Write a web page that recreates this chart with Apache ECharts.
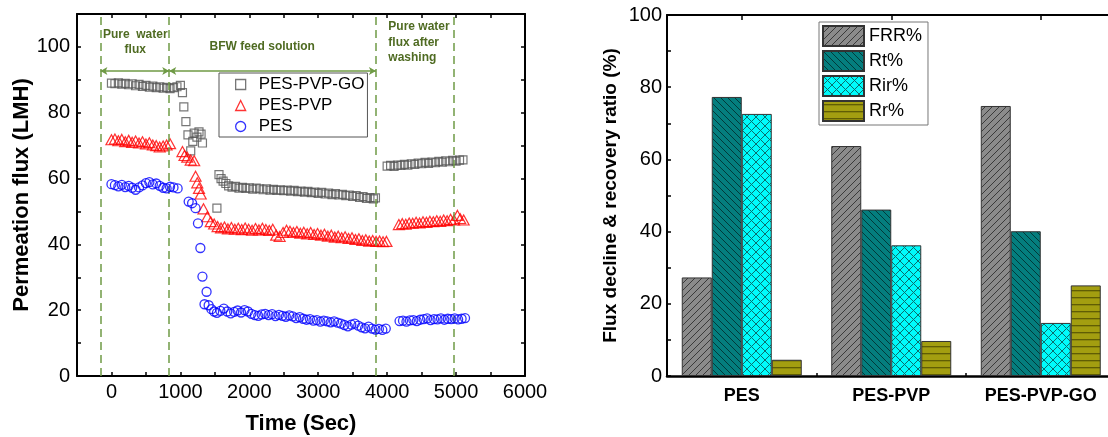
<!DOCTYPE html>
<html><head><meta charset="utf-8">
<script src="https://cdn.jsdelivr.net/npm/echarts@6/dist/echarts.min.js"></script>
<style>html,body{margin:0;padding:0;background:#fff}#c{width:1108px;height:437px}</style>
</head><body><div id="c"></div>
<script>
// ---------- Left panel: permeation flux vs time ----------
const GO_TIME = [0,50,100,150,200,250,300,350,400,450,500,550,600,650,700,750,800,850,900,950,
  1000,1030,1050,1080,1110,1150,1180,1200,1240,1270,1300,1320,1530,1560,1590,1620,1660,1700,
  1750,1800,1850,1900,1950,2000,2050,2100,2150,2200,2250,2300,2350,2400,2450,2500,2550,2600,2650,2700,
  2750,2800,2850,2900,2950,3000,3050,3100,3150,3200,3250,3300,3350,3400,3450,3500,3550,3600,3650,3700,3750,3800,3830,
  4000,4050,4100,4150,4200,4250,4300,4350,4400,4450,4500,4550,4600,4650,4700,4750,4800,4850,4900,4950,5000,5050,5100];
const GO_FLUX = [89.0,88.8,89.1,88.7,88.9,88.5,88.8,88.2,88.6,88.0,88.3,87.8,88.1,87.6,87.9,87.5,87.7,87.3,87.6,87.9,
  88.3,86.1,81.8,77.3,73.3,68.4,71.3,73.8,72.6,74.2,73.5,70.8,51.0,61.2,60.0,59.2,58.5,57.8,
  57.4,57.6,57.1,57.3,57.0,57.2,56.8,57.1,56.9,56.6,56.9,56.5,56.7,56.4,56.6,56.3,56.5,56.2,56.4,56.0,
  56.2,55.9,56.1,55.7,55.9,55.5,55.8,55.3,55.6,55.1,55.4,55.0,55.2,54.8,55.0,54.6,54.8,54.3,54.5,54.0,54.2,53.8,54.1,
  63.8,64.0,63.7,64.1,64.0,64.3,64.1,64.5,64.3,64.7,64.5,64.9,64.6,65.0,64.8,65.2,65.0,65.4,65.1,65.5,65.3,65.6,65.7];

const PVP_TIME = [0,50,100,150,200,250,300,350,400,450,500,550,600,650,700,750,800,850,
  1030,1060,1100,1150,1200,1220,1245,1270,1295,1335,1390,1440,1490,1540,
  1590,1640,1690,1740,1790,1840,1890,1940,1990,2040,2090,2140,2190,2240,2290,2340,2390,2440,2490,2540,
  2590,2640,2690,2740,2790,2840,2890,2940,2990,3040,3090,3140,3190,3240,3290,3340,3390,3440,3490,3540,
  3590,3640,3690,3740,3790,3840,3890,3940,3990,
  4170,4220,4270,4320,4370,4420,4470,4520,4570,4620,4670,4720,4770,4820,4870,4920,4970,5020,5060,5110];
const PVP_FLUX = [71.8,72.0,71.5,71.9,71.2,71.6,71.0,71.4,70.8,71.2,70.5,70.9,70.2,70.0,69.6,69.9,70.2,70.6,
  68.2,67.0,66.5,65.6,65.4,60.7,58.7,57.0,55.3,50.8,48.4,46.9,46.2,45.4,
  45.0,45.3,44.7,45.1,44.6,44.9,44.5,45.0,44.6,44.3,44.8,44.4,44.9,44.5,44.2,44.6,42.8,42.4,43.6,44.3,
  44.0,43.6,43.9,43.4,43.7,43.2,43.6,43.0,43.3,42.8,43.1,42.5,42.8,42.2,42.5,42.0,42.3,41.8,42.0,41.5,
  41.7,41.2,41.4,41.0,41.2,40.9,41.0,40.8,40.9,
  46.0,46.3,46.1,46.5,46.4,46.7,46.5,46.9,46.7,47.0,46.9,47.2,47.0,47.4,47.2,47.6,47.4,48.8,47.8,47.4];

const PES_TIME = [0,50,100,150,200,250,300,350,400,450,500,550,600,650,700,750,800,850,900,960,
  1120,1170,1220,1255,1290,1320,1350,1380,1410,1450,1490,1530,
  1580,1630,1680,1730,1780,1830,1880,1930,1980,2030,2080,2130,2180,2230,2280,2330,2380,2430,2480,2530,
  2580,2630,2680,2730,2780,2830,2880,2930,2980,3030,3080,3130,3180,3230,3280,3330,3380,3430,3480,3530,
  3580,3630,3680,3730,3780,3830,3880,3930,3980,
  4180,4230,4280,4330,4380,4430,4480,4530,4580,4630,4680,4730,4780,4830,4880,4930,4980,5030,5080,5130];
const PES_FLUX = [58.3,58.0,57.6,58.1,57.4,57.8,57.2,56.6,57.3,57.9,58.6,58.9,58.2,58.5,57.8,57.2,57.0,57.5,57.3,57.0,
  53.0,52.5,51.0,46.4,38.9,30.2,21.8,25.6,21.5,20.3,19.6,19.2,
  19.8,20.5,19.6,19.0,19.5,19.9,19.3,20.0,19.6,18.9,18.5,18.3,18.7,18.9,18.5,18.8,18.2,18.6,18.3,18.0,
  18.4,18.1,17.6,17.9,17.4,17.1,17.3,16.8,17.0,16.5,16.8,16.6,16.3,16.6,16.2,15.9,15.5,15.1,15.6,15.9,
  15.3,14.8,14.5,15.0,14.4,14.1,14.3,14.0,14.4,
  16.7,16.8,16.5,16.9,17.0,16.7,17.1,17.3,17.5,17.0,17.3,17.2,17.5,17.1,17.4,17.3,17.5,17.2,17.4,17.6];

const PHASE_LINES = [-160, 838, 3837, 4969];
const ARROW_LEVEL = 92.7;
const LEFT_SERIES = ['PES-PVP-GO', 'PES-PVP', 'PES'];

// ---------- Right panel: flux decline & recovery ratio ----------
const MEMBRANES = ['PES', 'PES-PVP', 'PES-PVP-GO'];
const FRR = [27.3, 63.7, 74.8];
const RT  = [77.3, 46.1, 40.1];
const RIR = [72.6, 36.2, 14.7];
const RR  = [4.5, 9.7, 25.1];
const BAR_NAMES = ['FRR%', 'Rt%', 'Rir%', 'Rr%'];

const FONT = '"Liberation Sans", Arial, Helvetica, sans-serif';
function zip(t, v) { const n = Math.min(t.length, v.length); const o = []; for (let i = 0; i < n; i++) o.push([t[i], v[i]]); return o; }

function pattern(bg, line, kind, s) {
  const c = document.createElement('canvas'); c.width = s; c.height = s;
  const g = c.getContext('2d');
  g.fillStyle = bg; g.fillRect(0, 0, s, s);
  g.strokeStyle = line; g.lineWidth = 1;
  g.beginPath();
  if (kind === 'fwd' || kind === 'cross') { for (const k of [-s, 0, s]) { g.moveTo(k, s); g.lineTo(k + s, 0); } }
  if (kind === 'back' || kind === 'cross') { for (const k of [-s, 0, s]) { g.moveTo(k, 0); g.lineTo(k + s, s); } }
  if (kind === 'horiz') { g.moveTo(0, s / 2); g.lineTo(s, s / 2); }
  g.stroke();
  return { image: c, repeat: 'repeat' };
}

const chart = echarts.init(document.getElementById('c'), null, { renderer: 'canvas' });

const axisLine = (w) => ({ show: true, onZero: false, lineStyle: { color: '#000', width: w || 2 } });
const tick = (len, align) => ({ show: true, inside: true, length: len, alignWithLabel: !!align, lineStyle: { color: '#000', width: 1.5 } });
const green = '#6f9a45';

const option = {
  animation: false,
  backgroundColor: '#fff',
  grid: [
    { left: 77, top: 14, width: 448, height: 362, outerBoundsMode: 'none', containLabel: false },
    { left: 667, top: 15, width: 448.5, height: 361, outerBoundsMode: 'none', containLabel: false }
  ],
  xAxis: [
    { gridIndex: 0, type: 'value', min: -500, max: 6000, interval: 500, position: 'bottom',
      axisLine: axisLine(2), axisTick: tick(4),
      axisLabel: { formatter: v => (v >= 0 && v % 1000 === 0) ? String(v) : '', fontSize: 20, color: '#000', fontFamily: FONT, margin: 6 },
      splitLine: { show: false },
      name: 'Time (Sec)', nameLocation: 'middle', nameGap: 37,
      nameTextStyle: { fontSize: 22, fontWeight: 'bold', fontFamily: FONT, color: '#000' } },
    { gridIndex: 0, type: 'value', min: -500, max: 6000, interval: 500, position: 'top',
      axisLine: axisLine(2), axisTick: tick(4),
      axisLabel: { show: false }, splitLine: { show: false } },
    { gridIndex: 1, type: 'category', data: MEMBRANES, position: 'bottom',
      axisLine: axisLine(2.5), axisTick: tick(3),
      axisLabel: { fontSize: 18, fontWeight: 'bold', fontFamily: FONT, color: '#000', margin: 11 } },
    { gridIndex: 1, type: 'category', data: MEMBRANES, position: 'top',
      axisLine: axisLine(2), axisTick: tick(5, true),
      axisLabel: { show: false } }
  ],
  yAxis: [
    { gridIndex: 0, type: 'value', min: 0, max: 110, interval: 10, position: 'left',
      axisLine: axisLine(2), axisTick: tick(4),
      axisLabel: { formatter: v => (v % 20 === 0 && v <= 100) ? String(v) : '', fontSize: 20, color: '#000', fontFamily: FONT, margin: 7 },
      splitLine: { show: false },
      name: 'Permeation flux (LMH)', nameLocation: 'middle', nameGap: 44,
      nameTextStyle: { fontSize: 22, fontWeight: 'bold', fontFamily: FONT, color: '#000' } },
    { gridIndex: 0, type: 'value', min: 0, max: 110, interval: 10, position: 'right',
      axisLine: axisLine(2), axisTick: tick(4),
      axisLabel: { show: false }, splitLine: { show: false } },
    { gridIndex: 1, type: 'value', min: 0, max: 100, interval: 10, position: 'left',
      axisLine: axisLine(2), axisTick: tick(4),
      axisLabel: { formatter: v => (v % 20 === 0) ? String(v) : '', fontSize: 20, color: '#000', fontFamily: FONT, margin: 5 },
      splitLine: { show: false },
      name: 'Flux decline & recovery ratio (%)', nameLocation: 'middle', nameGap: 47,
      nameTextStyle: { fontSize: 19, fontWeight: 'bold', fontFamily: FONT, color: '#000' } }
  ],
  legend: [
    { left: 219, top: 73, orient: 'vertical', selectedMode: false,
      itemWidth: 10, itemHeight: 10, itemGap: 4, padding: [3, 3, 2, 16],
      borderColor: '#555', borderWidth: 1, backgroundColor: '#fff',
      textStyle: { fontSize: 17, fontFamily: FONT, color: '#000', padding: [0, 0, 0, 8] },
      data: [
        { name: LEFT_SERIES[0], icon: 'rect', itemStyle: { color: 'rgba(0,0,0,0)', borderColor: '#555', borderWidth: 1.3 } },
        { name: LEFT_SERIES[1], icon: 'triangle', itemStyle: { color: 'rgba(0,0,0,0)', borderColor: '#f00', borderWidth: 1.3 } },
        { name: LEFT_SERIES[2], icon: 'circle', itemStyle: { color: 'rgba(0,0,0,0)', borderColor: '#00f', borderWidth: 1.3 } }
      ] },
    { left: 819, top: 22, orient: 'vertical', selectedMode: false,
      itemWidth: 41, itemHeight: 20, itemGap: 3, padding: [3, 6, 3, 3], icon: 'rect',
      borderColor: '#777', borderWidth: 1, backgroundColor: '#fff',
      textStyle: { fontSize: 18, fontFamily: FONT, color: '#000' },
      data: BAR_NAMES }
  ],
  series: [
    { type: 'scatter', name: LEFT_SERIES[0], xAxisIndex: 0, yAxisIndex: 0, data: zip(GO_TIME, GO_FLUX),
      symbol: 'rect', symbolSize: 8, z: 3,
      itemStyle: { color: 'rgba(0,0,0,0)', borderColor: '#555', borderWidth: 1.2 },
      markLine: {
        silent: true, symbol: ['none', 'none'], animation: false,
        label: { show: false },
        lineStyle: { color: green, type: [8, 5], width: 1.5 },
        data: [
          { xAxis: PHASE_LINES[0] }, { xAxis: PHASE_LINES[1] }, { xAxis: PHASE_LINES[2] }, { xAxis: PHASE_LINES[3] },
          [ { coord: [PHASE_LINES[0], ARROW_LEVEL], symbol: 'arrow', symbolSize: [6, 7], lineStyle: { type: 'solid', width: 1.5, color: green } },
            { coord: [PHASE_LINES[1], ARROW_LEVEL], symbol: 'arrow', symbolSize: [6, 7] } ],
          [ { coord: [PHASE_LINES[1], ARROW_LEVEL], symbol: 'arrow', symbolSize: [6, 7], lineStyle: { type: 'solid', width: 1.5, color: green } },
            { coord: [PHASE_LINES[2], ARROW_LEVEL], symbol: 'arrow', symbolSize: [6, 7] } ]
        ]
      },
      markPoint: {
        silent: true, symbol: 'circle', symbolSize: 0, animation: false,
        label: { show: true, color: '#4f6b22', fontFamily: FONT, fontWeight: 'bold', fontSize: 12, lineHeight: 15.5,
                 formatter: p => p.name },
        data: [
          { name: 'Pure  water\nflux', coord: [345, 101.4], label: { position: 'inside', align: 'center' } },
          { name: 'BFW feed solution', coord: [2188, 100.1], label: { position: 'inside', align: 'center' } },
          { name: 'Pure water\nflux after\nwashing', coord: [4017, 101.3], label: { position: 'right', distance: 0, align: 'left' } }
        ]
      } },
    { type: 'scatter', name: LEFT_SERIES[1], xAxisIndex: 0, yAxisIndex: 0, data: zip(PVP_TIME, PVP_FLUX),
      symbol: 'triangle', symbolSize: [11, 10], z: 4,
      itemStyle: { color: 'rgba(0,0,0,0)', borderColor: '#f00', borderWidth: 1.2 } },
    { type: 'scatter', name: LEFT_SERIES[2], xAxisIndex: 0, yAxisIndex: 0, data: zip(PES_TIME, PES_FLUX),
      symbol: 'circle', symbolSize: 9, z: 5,
      itemStyle: { color: 'rgba(0,0,0,0)', borderColor: '#00f', borderWidth: 1.3 } },

    { type: 'bar', name: BAR_NAMES[0], xAxisIndex: 2, yAxisIndex: 2, data: FRR, barWidth: 30, barGap: '0%',
      itemStyle: { color: pattern('#8b8b8b', '#3a3a3a', 'fwd', 7), borderColor: '#333', borderWidth: 1 } },
    { type: 'bar', name: BAR_NAMES[1], xAxisIndex: 2, yAxisIndex: 2, data: RT, barWidth: 30, barGap: '0%',
      itemStyle: { color: pattern('#047e7e', '#013a3a', 'back', 7), borderColor: '#333', borderWidth: 1 } },
    { type: 'bar', name: BAR_NAMES[2], xAxisIndex: 2, yAxisIndex: 2, data: RIR, barWidth: 30, barGap: '0%',
      itemStyle: { color: pattern('#00fbfb', '#0a6e6e', 'cross', 9), borderColor: '#333', borderWidth: 1 } },
    { type: 'bar', name: BAR_NAMES[3], xAxisIndex: 2, yAxisIndex: 2, data: RR, barWidth: 30, barGap: '0%',
      itemStyle: { color: pattern('#a39e10', '#4a4700', 'horiz', 7.5), borderColor: '#333', borderWidth: 1 } }
  ]
};
chart.setOption(option);
</script>
</body></html>
